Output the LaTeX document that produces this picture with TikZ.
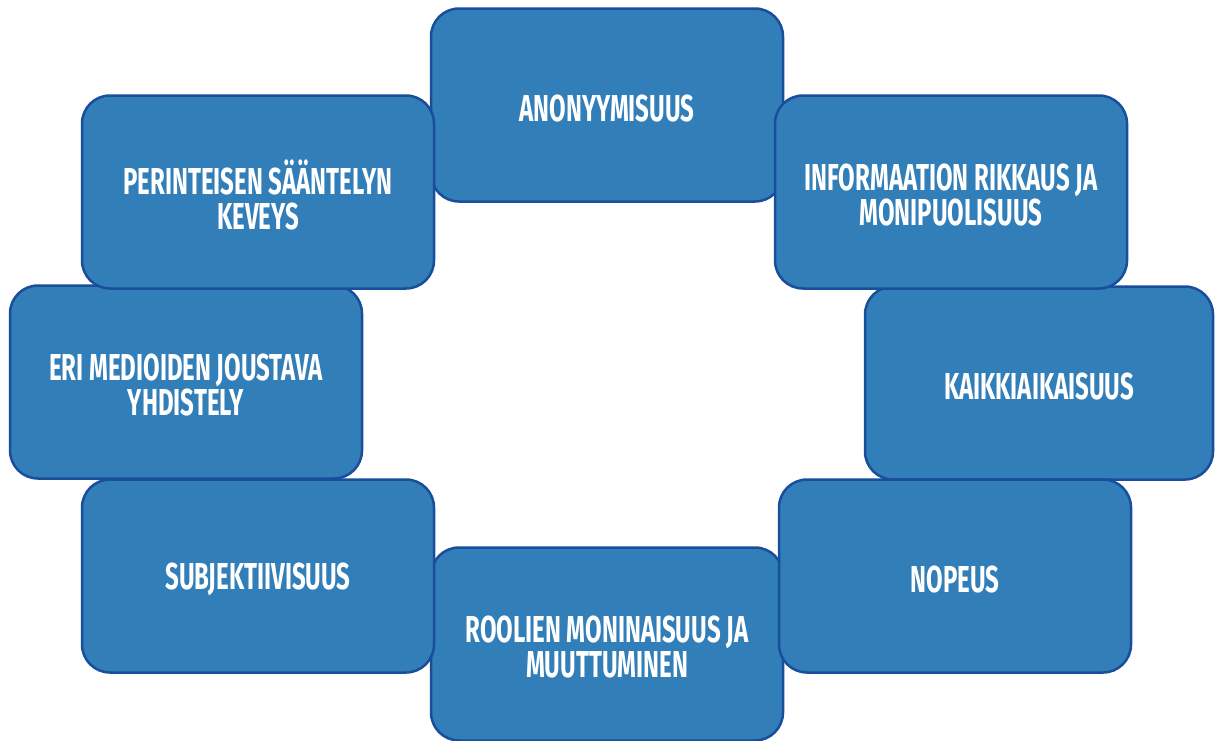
\documentclass[tikz,border=0pt]{standalone}
\usepackage{fontspec}
\newfontfamily\boxfont{Fira Sans}[FakeStretch=0.64]
\definecolor{boxfill}{RGB}{50,126,184}
\definecolor{boxline}{RGB}{24,78,156}
\begin{document}
\begin{tikzpicture}[x=1pt,y=-1pt,
  tile/.style={draw=boxline, fill=boxfill, line width=2.5pt, rounded corners=28pt,
    minimum width=352pt, minimum height=193pt, inner sep=0pt},
  tiletext/.style={text=white, align=center, inner sep=0pt, yshift=-3pt,
    font=\boxfont\bfseries\fontsize{37.5}{35}\selectfont}]
\useasboundingbox (0,0) rectangle (1215,740);
% tiles underneath
\node[tile, label={[tiletext]center:ANONYYMISUUS}] (anon) at (607,105) {};
\node[tile, label={[tiletext]center:{ERI MEDIOIDEN JOUSTAVA\\YHDISTELY}}] (media) at (186,382) {};
\node[tile, minimum width=348pt, label={[tiletext]center:KAIKKIAIKAISUUS}] (always) at (1039,383) {};
\node[tile, label={[tiletext]center:{ROOLIEN MONINAISUUS JA\\MUUTTUMINEN}}] (roles) at (607,644) {};
% tiles on top
\node[tile, label={[tiletext]center:{PERINTEISEN SÄÄNTELYN\\KEVEYS}}] (reg) at (258,192) {};
\node[tile, label={[tiletext]center:{INFORMAATION RIKKAUS JA\\MONIPUOLISUUS}}] (info) at (951,192) {};
\node[tile, label={[tiletext]center:SUBJEKTIIVISUUS}] (subj) at (258,576) {};
\node[tile, label={[tiletext]center:NOPEUS}] (speed) at (955,576) {};
\end{tikzpicture}
\end{document}
